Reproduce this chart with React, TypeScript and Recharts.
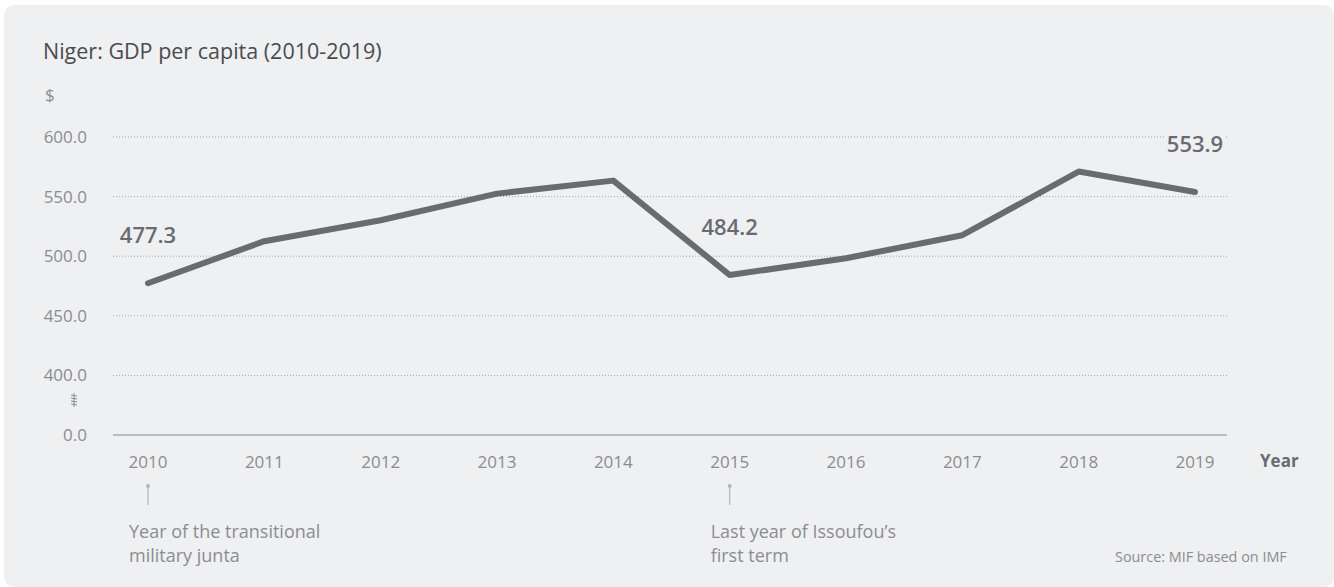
import React from 'react'
import {
  LineChart,
  Line,
  XAxis,
  YAxis,
  CartesianGrid,
  LabelList
} from 'recharts'

const years = ['2010', '2011', '2012', '2013', '2014', '2015', '2016', '2017', '2018', '2019']
const gdpPerCapita = [477.3, 512.6, 530.2, 552.5, 563.4, 484.2, 498.3, 517.6, 571.0, 553.9]

// axis is broken: the bottom tick stands for 0.0
const yTicks = [350, 400, 450, 500, 550, 600]
const yTickLabels = ['0.0', '400.0', '450.0', '500.0', '550.0', '600.0']

const labelledYears = ['2010', '2015', '2019']
const annotationYears = ['2010', '2015']
const annotationTexts = [
  ['Year of the transitional', 'military junta'],
  ['Last year of Issoufou\u2019s', 'first term']
]

const FONT = '"Open Sans", "Noto Sans", sans-serif'
const LINE = '#6a6b70'
const MUTED = '#8b8c91'
const BG = '#eff0f2'

const data = years.map((year, i) => ({ year, value: gdpPerCapita[i] }))

const YTick = ({ y, payload }: any) => {
  const idx = yTicks.indexOf(payload.value)
  return (
    <g>
      <text x={87} y={y} dy={6} textAnchor="end" fill={MUTED} fontSize={17} fontFamily={FONT}>
        {yTickLabels[idx]}
      </text>
      {payload.value === 350 && (
        <path
          d={`M74,${y - 42} L74,${y - 28} M71,${y - 40} L77,${y - 39} M71,${y - 37} L77,${y - 36} M71,${y - 34} L77,${y - 33} M71,${y - 31} L77,${y - 30}`}
          stroke={MUTED}
          strokeWidth={1}
          fill="none"
        />
      )}
    </g>
  )
}

const XTick = ({ x, y, payload }: any) => {
  const a = annotationYears.indexOf(payload.value)
  return (
    <g>
      <text x={x} y={y} dy={33} textAnchor="middle" fill={MUTED} fontSize={17} fontFamily={FONT}>
        {payload.value}
      </text>
      {a >= 0 && (
        <g>
          <circle cx={x} cy={y + 51} r={2} fill="#b4b5b9" />
          <line x1={x} y1={y + 51} x2={x} y2={y + 70} stroke="#b4b5b9" strokeWidth={1.2} />
          {annotationTexts[a].map((t, k) => (
            <text key={k} x={x - 19} y={y + 103 + k * 24} fill={MUTED} fontSize={18} fontFamily={FONT}>
              {t}
            </text>
          ))}
        </g>
      )}
    </g>
  )
}

const ValueLabel = ({ x, y, value, index }: any) => {
  if (!labelledYears.includes(years[index])) return null
  const text = value.toFixed(1)
  return (
    <g>
      <rect x={x - 29} y={y - 62} width={58} height={26} fill={BG} />
      <text x={x} y={y - 40} textAnchor="middle" fill={LINE} fontSize={22} fontWeight={600} fontFamily={FONT}>
        {text}
      </text>
    </g>
  )
}

export default function App() {
  return (
    <div style={{ position: 'absolute', left: 0, top: 0, width: 1334, height: 587, background: '#fff', fontFamily: FONT }}>
      <div style={{ position: 'absolute', left: 4, top: 5, width: 1330, height: 582, background: BG, borderRadius: 10 }} />
      <div style={{ position: 'absolute', left: 0, top: 0 }}>
        <LineChart width={1334} height={587} data={data} margin={{ top: 137, right: 107, bottom: 0, left: 0 }}>
          <CartesianGrid vertical={false} stroke="#a2a3a8" strokeDasharray="1 2" />
          <XAxis
            dataKey="year"
            height={152}
            padding={{ left: 35, right: 32 }}
            axisLine={{ stroke: '#bcbdc1', strokeWidth: 2 }}
            tickLine={false}
            tickSize={0}
            tickMargin={0}
            tick={<XTick />}
            interval={0}
          />
          <YAxis
            width={113}
            domain={[350, 600]}
            ticks={yTicks}
            axisLine={false}
            tickLine={false}
            tick={<YTick />}
            interval={0}
          />
          <Line
            type="linear"
            dataKey="value"
            stroke={LINE}
            strokeWidth={6}
            strokeLinecap="round"
            strokeLinejoin="round"
            dot={false}
            activeDot={false}
            isAnimationActive={false}
          >
            <LabelList dataKey="value" content={<ValueLabel />} />
          </Line>
        </LineChart>
      </div>
      <div style={{ position: 'absolute', left: 43, top: 36, fontSize: 21.5, color: '#4a4b50' }}>
        Niger: GDP per capita (2010-2019)
      </div>
      <div style={{ position: 'absolute', left: 45, top: 83, fontSize: 17, color: MUTED }}>$</div>
      <div style={{ position: 'absolute', left: 1260, top: 449, fontSize: 17, fontWeight: 700, color: LINE }}>Year</div>
      <div style={{ position: 'absolute', left: 1115, top: 547, fontSize: 14.4, color: MUTED }}>
        Source: MIF based on IMF
      </div>
    </div>
  )
}
